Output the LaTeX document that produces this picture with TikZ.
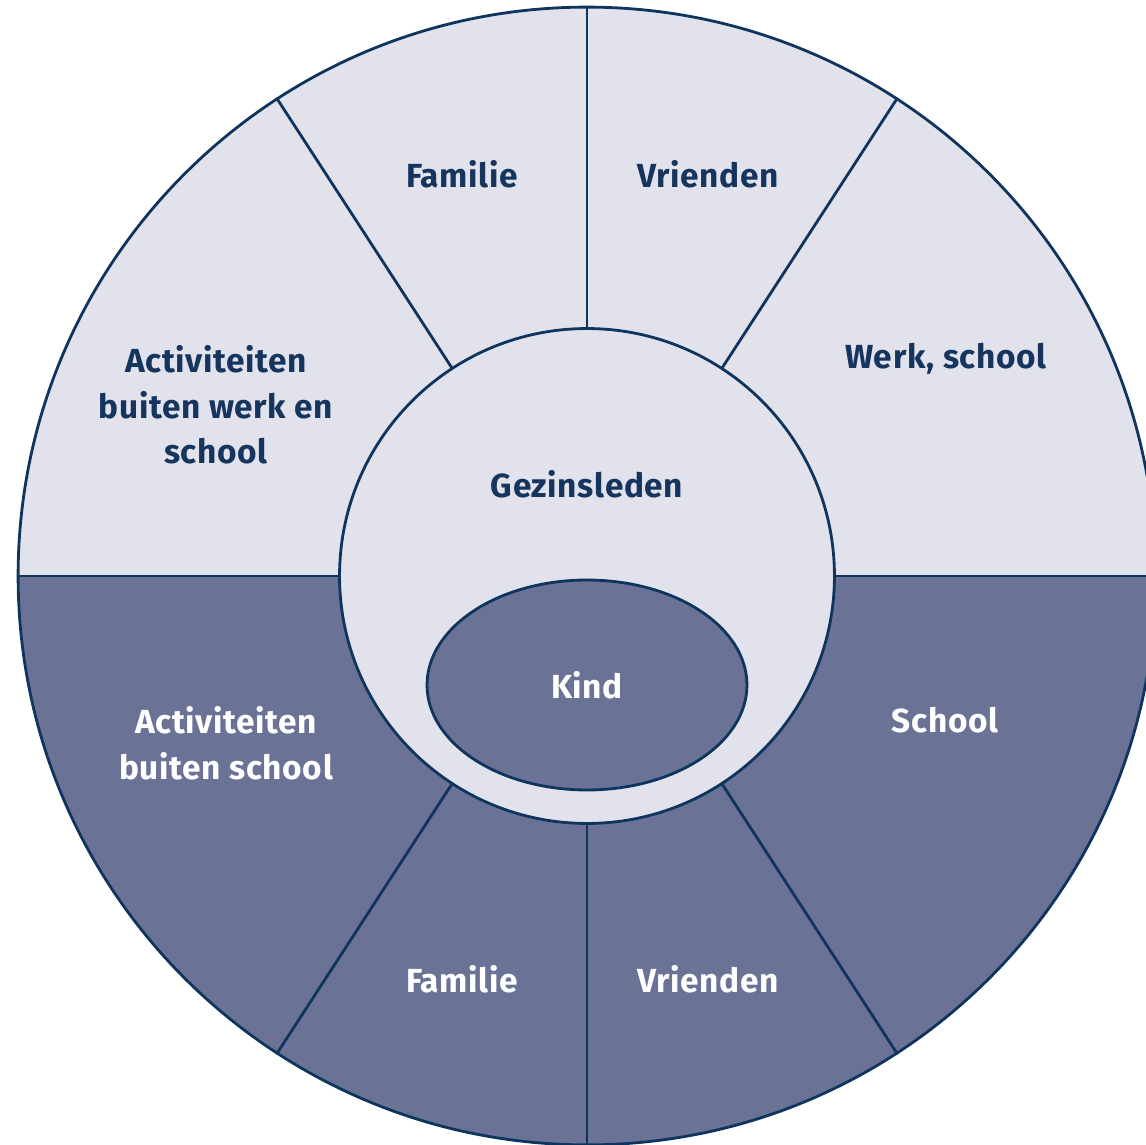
\documentclass[tikz,border=0pt]{standalone}
\usepackage{fontspec}
\setmainfont{Fira Sans}[LetterSpace=2]
\usetikzlibrary{shapes.geometric,calc}
\definecolor{lightc}{HTML}{E1E2EC}
\definecolor{darkc}{HTML}{6A7395}
\definecolor{linec}{HTML}{0F355F}
\definecolor{textc}{HTML}{16355E}
\tikzset{
  ln/.style={draw=linec, line width=1.6pt},
  lbl/.style={font=\fontsize{19}{26}\selectfont\bfseries, align=center, inner sep=0pt},
  lbldark/.style={lbl, text=textc},
  lbllight/.style={lbl, text=white},
}
\begin{document}
\begin{tikzpicture}[x=0.02cm,y=0.02cm]
\useasboundingbox (0,0) rectangle (1146,1144);
\clip (0,0) rectangle (1146,1144);
\coordinate (C) at (587,568);
% halves
\fill[lightc] (C) circle[radius=569];
\fill[darkc] ($(C)+(0:569)$) arc[start angle=0,end angle=-180,radius=569] -- cycle;
\node[circle, ln, minimum size=22.76cm, inner sep=0pt] (outer) at (C) {};
% spokes
\foreach \a in {0,57,90,123,180,237,270,303}{
  \draw[ln] (C) -- (outer.\a);
}
\node[circle, ln, fill=lightc, minimum size=9.9cm, inner sep=0pt] (inner) at (C) {};
\node[ellipse, ln, fill=darkc, minimum width=6.4cm, minimum height=4.2cm, inner sep=0pt] (kind) at (587,459) {};
\node[lbllight] (kindt) at (kind.center) {Kind};
\node[lbldark] (gez) at (587,660) {Gezinsleden};
% upper labels
\node[lbldark] (famt) at (462,970) {Familie};
\node[lbldark] (vrit) at (708,970) {Vrienden};
\node[lbldark] (werk) at (946,785) {Werk, school};
\node[lbldark] (actt) at (216,739) {Activiteiten\\buiten werk en\\school};
% lower labels
\node[lbllight] (actb) at (226,401) {Activiteiten\\buiten school};
\node[lbllight] (school) at (945,424) {School};
\node[lbllight] (famb) at (462,165) {Familie};
\node[lbllight] (vrib) at (708,165) {Vrienden};
\end{tikzpicture}
\end{document}
